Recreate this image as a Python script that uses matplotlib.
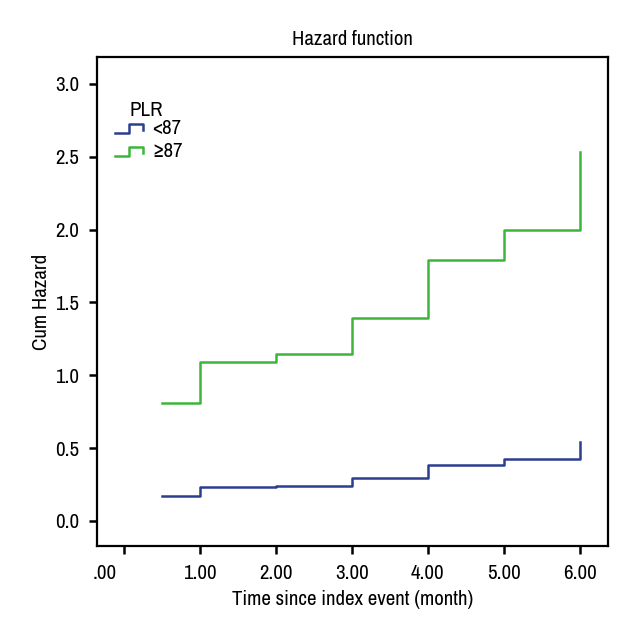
import matplotlib
matplotlib.use("Agg")
import matplotlib.pyplot as plt
from matplotlib.legend_handler import HandlerBase
from matplotlib.lines import Line2D
import matplotlib.transforms as mtransforms
from matplotlib import font_manager

names = sorted({f.name for f in font_manager.fontManager.ttflist})
cands = [n for n in names if 'Narrow' in n or 'Condensed' in n]
plt.rcParams['font.family'] = cands + ['Lato', 'DejaVu Sans']

# Data
times = [0.5, 1.0, 2.0, 3.0, 4.0, 5.0, 6.0]
haz_low = [0.172, 0.233, 0.243, 0.297, 0.382, 0.428, 0.54]
haz_high = [0.808, 1.09, 1.146, 1.393, 1.79, 2.0, 2.53]
group_labels = ['<87', '≥87']
colors = ['#2a3f8e', '#3db53a']
xticks = [0, 1, 2, 3, 4, 5, 6]
xticklabels = ['.00', '1.00', '2.00', '3.00', '4.00', '5.00', '6.00']
yticks = [0.0, 0.5, 1.0, 1.5, 2.0, 2.5, 3.0]

FS = 15


class StepHandler(HandlerBase):
    def create_artists(self, legend, orig_handle, xdescent, ydescent,
                       width, height, fontsize, trans):
        x0 = -xdescent
        w = width
        y0 = -ydescent + height * 0.1
        y1 = -ydescent + height * 0.7
        xs = [x0, x0 + 0.5 * w, x0 + 0.5 * w, x0 + w, x0 + w]
        ys = [y0, y0, y1, y1, y0 + 0.3 * (y1 - y0)]
        line = Line2D(xs, ys, color=orig_handle.get_color(), lw=1.8,
                      transform=trans)
        return [line]


fig = plt.figure(figsize=(6.4, 6.4), dpi=100)
ax = fig.add_axes([0.1516, 0.1469, 0.7984, 0.764])

handles = []
for vals, col, lab in zip([haz_low, haz_high], colors, group_labels):
    xs = list(times)
    ys = list(vals)
    (ln,) = ax.step(xs[:-1] + [xs[-1], xs[-1]], ys[:-1] + [ys[-2], ys[-1]],
                    where='post', color=col, lw=1.8)
    handles.append(ln)

ax.set_xlim(-0.355, 6.37)
ax.set_ylim(-0.172, 3.185)
ax.set_xticks(xticks)
ax.set_xticklabels(xticklabels)
ax.set_yticks(yticks)
ax.set_yticklabels([f'{v:.1f}' for v in yticks])

for sp in ax.spines.values():
    sp.set_linewidth(1.6)
    sp.set_color('black')
ax.tick_params(direction='out', length=6, width=1.8, labelsize=FS, pad=7)

lbl0 = ax.get_xticklabels()[0]
lbl0.set_transform(lbl0.get_transform() + mtransforms.ScaledTranslation(-0.19, 0, fig.dpi_scale_trans))

ax.set_title('Hazard function', fontsize=FS, y=1.035, va='center', pad=0)
ax.set_xlabel('Time since index event (month)', fontsize=FS, va='center')
ax.set_ylabel('Cum Hazard', fontsize=FS, va='center')
ax.xaxis.set_label_coords(0.5, -0.110)
ax.yaxis.set_label_coords(-0.108, 0.5)

leg = ax.legend(handles, group_labels, title='PLR', loc='upper left',
                bbox_to_anchor=(0.035, 0.92), frameon=False, fontsize=FS,
                title_fontsize=FS, handler_map={Line2D: StepHandler()},
                handlelength=1.35, handletextpad=0.45, labelspacing=0.2,
                borderaxespad=0.0, borderpad=0.0)
leg._legend_box.align = 'left'
leg.get_title().set_position((15, -5))

fig.savefig('out.png', dpi=100)
